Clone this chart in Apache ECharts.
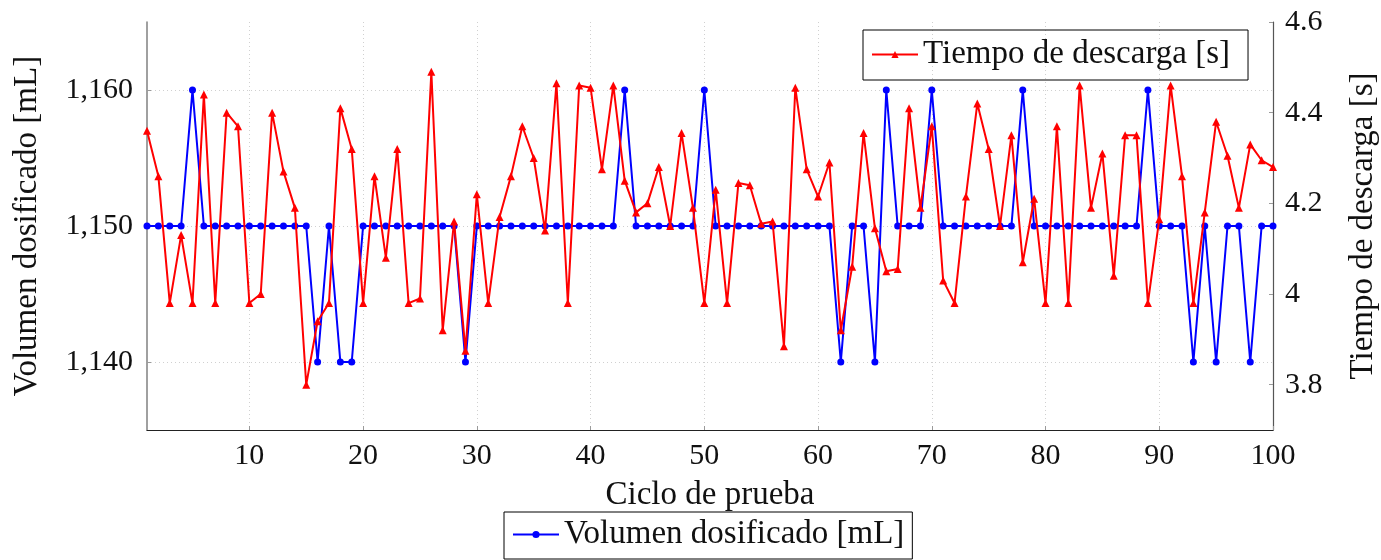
<!DOCTYPE html>
<html>
<head>
<meta charset="utf-8">
<script src="https://cdn.jsdelivr.net/npm/echarts@6/dist/echarts.min.js"></script>
<style>
html,body{margin:0;padding:0;background:#fff;}
#chart{width:1381px;height:560px;}
</style>
</head>
<body>
<div id="chart"></div>
<script>
// Test cycle numbers (x axis)
const cycles = [
  1,2,3,4,5,6,7,8,9,10,11,12,13,14,15,16,17,18,19,20,
  21,22,23,24,25,26,27,28,29,30,31,32,33,34,35,36,37,38,39,40,
  41,42,43,44,45,46,47,48,49,50,51,52,53,54,55,56,57,58,59,60,
  61,62,63,64,65,66,67,68,69,70,71,72,73,74,75,76,77,78,79,80,
  81,82,83,84,85,86,87,88,89,90,91,92,93,94,95,96,97,98,99,100
];
// Dosed volume [mL]
const volumen = [
  1150,1150,1150,1150,1160,1150,1150,1150,1150,1150,
  1150,1150,1150,1150,1150,1140,1150,1140,1140,1150,
  1150,1150,1150,1150,1150,1150,1150,1150,1140,1150,
  1150,1150,1150,1150,1150,1150,1150,1150,1150,1150,
  1150,1150,1160,1150,1150,1150,1150,1150,1150,1160,
  1150,1150,1150,1150,1150,1150,1150,1150,1150,1150,
  1150,1140,1150,1150,1140,1160,1150,1150,1150,1160,
  1150,1150,1150,1150,1150,1150,1150,1160,1150,1150,
  1150,1150,1150,1150,1150,1150,1150,1150,1160,1150,
  1150,1150,1140,1150,1140,1150,1150,1140,1150,1150
];
// Discharge time [s]
const tiempo = [
  4.36,4.26,3.98,4.13,3.98,4.44,3.98,4.40,4.37,3.98,
  4.00,4.40,4.27,4.19,3.80,3.94,3.98,4.41,4.32,3.98,
  4.26,4.08,4.32,3.98,3.99,4.49,3.92,4.16,3.875,4.22,
  3.98,4.17,4.26,4.37,4.30,4.14,4.465,3.98,4.46,4.455,
  4.275,4.46,4.25,4.18,4.20,4.28,4.15,4.355,4.19,3.98,
  4.23,3.98,4.245,4.24,4.155,4.16,3.885,4.455,4.275,4.215,
  4.29,3.92,4.06,4.355,4.145,4.05,4.055,4.41,4.19,4.37,
  4.03,3.98,4.215,4.42,4.32,4.15,4.35,4.07,4.21,3.98,
  4.37,3.98,4.46,4.19,4.31,4.04,4.35,4.35,3.98,4.165,
  4.46,4.26,3.98,4.18,4.38,4.305,4.19,4.33,4.295,4.28
];

const FONT = 'Liberation Serif';
const chart = echarts.init(document.getElementById('chart'), null, {renderer: 'canvas'});

const tickStyle = {show: true, inside: true, length: 4, lineStyle: {color: '#9a9a9a', width: 1}};
const gridLine = {show: true, showMinLine: false, showMaxLine: false, lineStyle: {color: '#d0d0d0', type: [1, 3], width: 1}};

chart.setOption({
  animation: false,
  backgroundColor: '#ffffff',
  grid: {left: 147, right: 108, top: 22, bottom: 130, containLabel: false, outerBoundsMode: 'none'},
  legend: [
    {
      data: ['Tiempo de descarga [s]'],
      left: 863, top: 30,
      orient: 'horizontal',
      itemWidth: 46, itemHeight: 9,
      padding: [8, 18, 9, 8],
      borderColor: '#000', borderWidth: 1, borderRadius: 0,
      textStyle: {fontFamily: FONT, fontSize: 33, color: '#111', padding: [0, 0, 0, 0]},
      itemGap: 0
    },
    {
      data: ['Volumen dosificado [mL]'],
      left: 504, top: 512,
      orient: 'horizontal',
      itemWidth: 46, itemHeight: 9,
      padding: [6, 8, 8, 8],
      borderColor: '#000', borderWidth: 1, borderRadius: 0,
      textStyle: {fontFamily: FONT, fontSize: 33, color: '#111', padding: [0, 0, 0, 0]},
      itemGap: 0
    }
  ],
  xAxis: {
    type: 'value',
    min: 1, max: 100, splitNumber: 10,
    name: 'Ciclo de prueba',
    nameLocation: 'middle', nameGap: 49,
    nameTextStyle: {fontFamily: FONT, fontSize: 33, color: '#111'},
    axisLine: {show: true, onZero: false, lineStyle: {color: '#222', width: 1.2}},
    axisTick: tickStyle,
    axisLabel: {fontFamily: FONT, fontSize: 30, color: '#111', margin: 11, showMinLabel: false},
    splitLine: gridLine
  },
  yAxis: [
    {
      type: 'value', position: 'left',
      min: 1135, max: 1165, splitNumber: 3,
      name: 'Volumen dosificado [mL]',
      nameLocation: 'middle', nameGap: 103, nameRotate: 90,
      nameTextStyle: {fontFamily: FONT, fontSize: 33, color: '#111'},
      axisLine: {show: true, lineStyle: {color: '#808080', width: 1.5}},
      axisTick: tickStyle,
      axisLabel: {fontFamily: FONT, fontSize: 30, color: '#111', margin: 14,
        showMinLabel: false, showMaxLabel: false,
        formatter: v => v.toLocaleString('en-US')},
      splitLine: gridLine
    },
    {
      type: 'value', position: 'right',
      min: 3.7, max: 4.6, splitNumber: 5,
      name: 'Tiempo de descarga [s]',
      nameLocation: 'middle', nameGap: 74, nameRotate: 90,
      nameTextStyle: {fontFamily: FONT, fontSize: 33, color: '#111'},
      axisLine: {show: true, lineStyle: {color: '#555', width: 1.2}},
      axisTick: tickStyle,
      axisLabel: {fontFamily: FONT, fontSize: 30, color: '#111', margin: 12,
        showMinLabel: false, showMaxLabel: true},
      splitLine: {show: false}
    }
  ],
  series: [
    {
      name: 'Volumen dosificado [mL]',
      type: 'line', yAxisIndex: 0,
      data: cycles.map((c, i) => [c, volumen[i]]),
      symbol: 'circle', symbolSize: 7,
      lineStyle: {color: '#0000ff', width: 2},
      itemStyle: {color: '#0000ff'},
      z: 2
    },
    {
      name: 'Tiempo de descarga [s]',
      type: 'line', yAxisIndex: 1,
      data: cycles.map((c, i) => [c, tiempo[i]]),
      symbol: 'triangle', symbolSize: 8,
      lineStyle: {color: '#ff0000', width: 2},
      itemStyle: {color: '#ff0000'},
      z: 3
    }
  ]
});
</script>
</body>
</html>
